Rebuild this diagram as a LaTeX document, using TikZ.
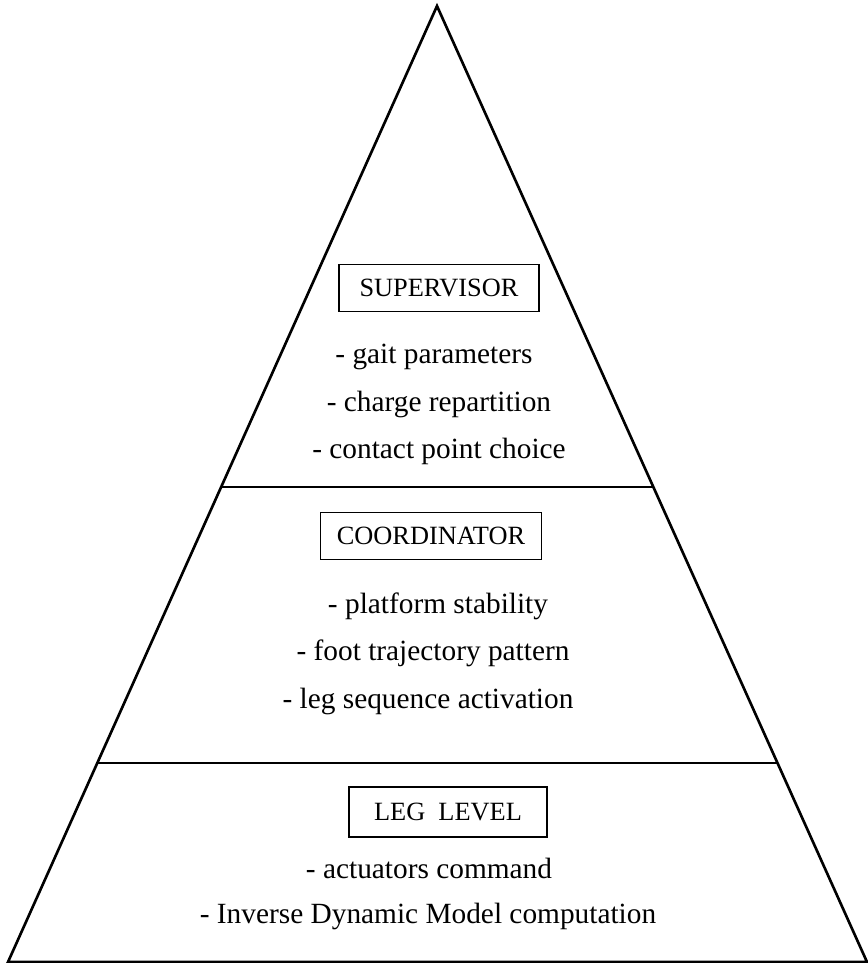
\documentclass[tikz,border=0pt]{standalone}
\usepackage{fontspec}
\setmainfont{Liberation Serif}
\usetikzlibrary{positioning, calc}

\begin{document}
\begin{tikzpicture}[
        x=0.02cm, y=-0.02cm,
        outline/.style={draw=black, line width=1.5pt},
        divider/.style={draw=black, line width=1.2pt},
        levelbox/.style={draw=black, line width=0.7pt, rectangle, minimum height=0.95cm, font=\fontsize{15}{18}\selectfont},
        item/.style={anchor=base, inner sep=0pt, font=\fontsize{16.7}{20}\selectfont}
    ]

    \useasboundingbox (0,0) rectangle (868,963);

    % Dreieck
    \coordinate (top) at (437,6);
    \coordinate (bl) at (8,962);
    \coordinate (br) at (867,962);
    \draw[outline] (top) -- (bl) -- (br) -- cycle;

    % Trennlinien
    \coordinate (d1l) at ($(top)!0.503!(bl)$);
    \coordinate (d1r) at ($(top)!0.503!(br)$);
    \coordinate (d2l) at ($(top)!0.792!(bl)$);
    \coordinate (d2r) at ($(top)!0.792!(br)$);
    \draw[divider] (d1l) -- (d1r);
    \draw[divider] (d2l) -- (d2r);

    % Ebenen
    \node[levelbox, minimum width=4cm] (sup) at (439,288) {SUPERVISOR};
    \node[item] (sup1) at (434,363) {- gait parameters};
    \node[item] (sup2) at (439,411) {- charge repartition};
    \node[item] (sup3) at (439,458) {- contact point choice};

    \node[levelbox, minimum width=4.42cm] (coo) at (431,536) {COORDINATOR};
    \node[item] (coo1) at (438,613) {- platform stability};
    \node[item] (coo2) at (433,660) {- foot trajectory pattern};
    \node[item] (coo3) at (428,708) {- leg sequence activation};

    \node[levelbox, minimum width=3.96cm, minimum height=1cm] (leg) at (448,812) {LEG\ \ LEVEL};
    \node[item] (leg1) at (429,878) {- actuators command};
    \node[item] (leg2) at (428,923) {- Inverse Dynamic Model computation};

\end{tikzpicture}
\end{document}
